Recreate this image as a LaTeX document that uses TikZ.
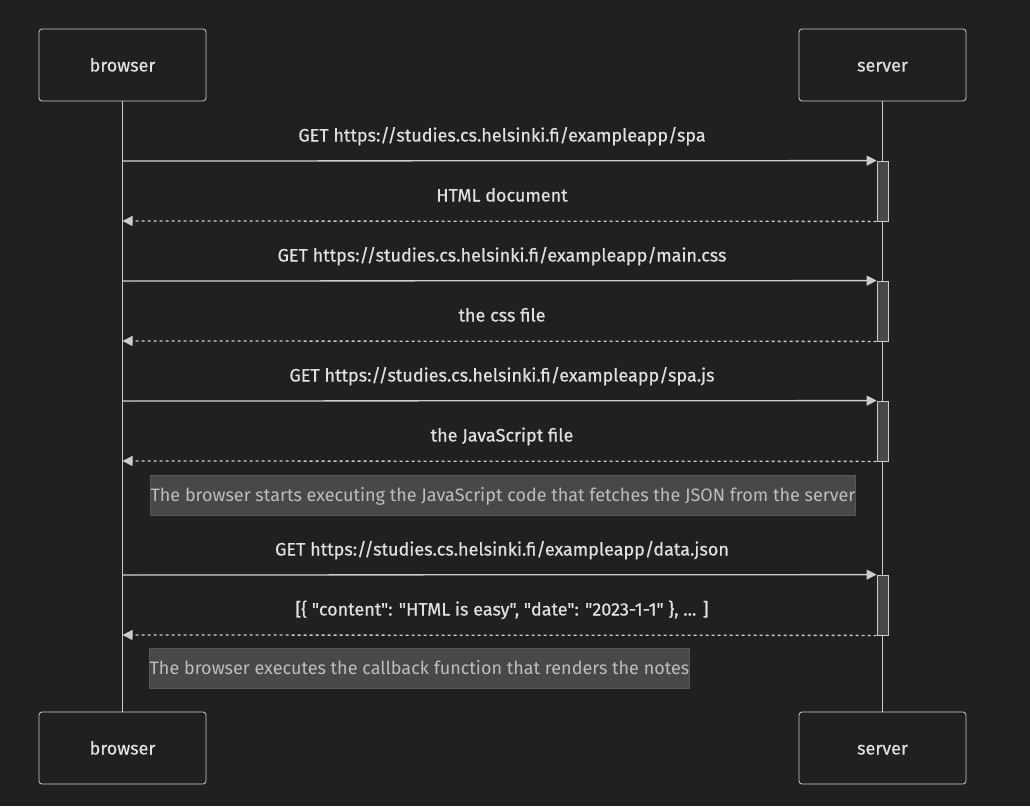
\documentclass[tikz,border=0pt]{standalone}
\usepackage{fontspec}
\setmainfont{Fira Sans}
\newfontfamily\medfont{Fira Sans}[FakeBold=0.6]
\usetikzlibrary{arrows.meta}
\definecolor{bg}{HTML}{1F2020}
\definecolor{ln}{HTML}{CCCCCC}
\definecolor{act}{HTML}{474949}
\definecolor{txt}{HTML}{E0E0E0}
\definecolor{notetxt}{HTML}{BDBDBD}
\definecolor{noteborder}{HTML}{555757}
\begin{document}
\begin{tikzpicture}[x=1pt,y=-1pt,
  actor/.style={draw=ln, fill=bg, rounded corners=3pt, minimum width=167pt, minimum height=72pt, text=txt, font=\medfont\fontsize{18}{20}\selectfont, line width=0.8pt, text height=13pt, text depth=0pt},
  life/.style={draw=ln, line width=1.3pt},
  msg/.style={draw=ln, line width=1.3pt, -{Triangle[length=10pt,width=10pt]}, fill=ln},
  ret/.style={draw=ln, line width=1.3pt, dash pattern=on 3pt off 3pt, -{Triangle[length=10pt,width=10pt,fill=ln]}},
  lbl/.style={text=txt, font=\medfont\fontsize{18}{20}\selectfont, inner sep=0pt, text height=13pt, text depth=0pt},
  activ/.style={draw=ln, fill=act, line width=0.8pt, minimum width=11pt, minimum height=60pt, inner sep=0pt},
  note/.style={draw=noteborder, fill=act, text=notetxt, font=\fontsize{18}{20}\selectfont, inner sep=0pt, minimum height=40pt, line width=0.8pt, text height=13pt, text depth=0pt}
]
\fill[bg] (0,0) rectangle (1030,806);
\useasboundingbox (0,0) rectangle (1030,806);

% actors
\node[actor] (bt) at (122.5,65) {browser};
\node[actor] (st) at (882.5,65) {server};
\node[actor] (bb) at (122.5,748) {browser};
\node[actor] (sb) at (882.5,748) {server};

% lifelines
\draw[life] (bt.south) -- (bb.north);
\draw[life] (st.south) -- (sb.north);

% activations
\node[activ] (a1) at (882.5,191) {};
\node[activ] (a2) at (882.5,311) {};
\node[activ] (a3) at (882.5,431) {};
\node[activ] (a4) at (882.5,605) {};

% coordinates on browser lifeline
\coordinate (b1) at (122.5,161);
\coordinate (b2) at (122.5,221);
\coordinate (b3) at (122.5,281);
\coordinate (b4) at (122.5,341);
\coordinate (b5) at (122.5,401);
\coordinate (b6) at (122.5,461);
\coordinate (b7) at (122.5,575);
\coordinate (b8) at (122.5,635);

% messages
\draw[msg] (b1) -- (a1.north west);
\node[lbl] (l1) at (502,135) {GET https://studies.cs.helsinki.fi/exampleapp/spa};
\draw[ret] (a1.south west) -- (b2);
\node[lbl] (l2) at (502,195) {HTML document};

\draw[msg] (b3) -- (a2.north west);
\node[lbl] (l3) at (502,255) {GET https://studies.cs.helsinki.fi/exampleapp/main.css};
\draw[ret] (a2.south west) -- (b4);
\node[lbl] (l4) at (502,315) {the css file};

\draw[msg] (b5) -- (a3.north west);
\node[lbl] (l5) at (502,375) {GET https://studies.cs.helsinki.fi/exampleapp/spa.js};
\draw[ret] (a3.south west) -- (b6);
\node[lbl] (l6) at (502,435) {the JavaScript file};

\node[note, minimum width=704pt] (n1) at (503,495) {The browser starts executing the JavaScript code that fetches the JSON from the server};

\draw[msg] (b7) -- (a4.north west);
\node[lbl] (l7) at (502,549) {GET https://studies.cs.helsinki.fi/exampleapp/data.json};
\draw[ret] (a4.south west) -- (b8);
\node[lbl] (l8) at (502,609) {[\{ "content": "HTML is easy", "date": "2023-1-1" \}, ... ]};

\node[note, minimum width=537pt] (n2) at (419.5,668) {The browser executes the callback function that renders the notes};
\end{tikzpicture}
\end{document}
